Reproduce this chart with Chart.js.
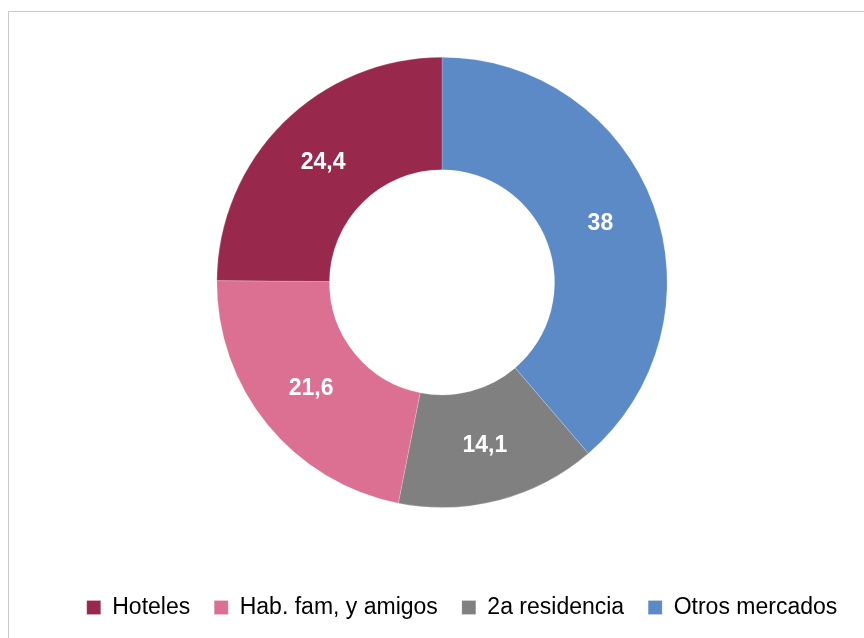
<!DOCTYPE html>
<html>
<head>
<meta charset="utf-8">
<script src="https://cdn.jsdelivr.net/npm/chart.js@4.4.1/dist/chart.umd.min.js"></script>
<style>
  html, body { margin: 0; padding: 0; background: #fff; overflow: hidden; width: 864px; height: 638px; }
  #frame { position: absolute; left: 8px; top: 11px; width: 900px; height: 700px; border: 1px solid #c9c9c9; box-sizing: border-box; }
  #box { position: absolute; left: 8px; top: 11px; width: 868px; height: 618px; }
</style>
</head>
<body>
<div id="frame"></div>
<div id="box"><canvas id="myChart"></canvas></div>
<script>
// drawing order is clockwise from the top, legend is shown reversed
const categories = ["Otros mercados", "2a residencia", "Hab. fam, y amigos", "Hoteles"];
const values = [38, 14.1, 21.6, 24.4];
const colors = ["#5B8AC7", "#808080", "#DB7093", "#98284C"];

const FONT = "'Liberation Sans', Arial, sans-serif";

// white value labels in the middle of each slice
const sliceLabels = {
    id: 'sliceLabels',
    afterDatasetsDraw(chart) {
        const ctx = chart.ctx;
        const meta = chart.getDatasetMeta(0);
        ctx.save();
        ctx.fillStyle = "#ffffff";
        ctx.font = "bold 23px " + FONT;
        ctx.textAlign = "center";
        ctx.textBaseline = "middle";
        meta.data.forEach(function(arc, i) {
            const p = arc.getCenterPoint();
            ctx.fillText(String(values[i]).replace(".", ","), p.x, p.y);
        });
        ctx.restore();
    }
};

// legend sits a bit right of centre in the original
const legendShift = {
    id: 'legendShift',
    afterLayout(chart) {
        chart.legend.left += 40;
    }
};

const chart = new Chart("myChart", {
    type: "doughnut",
    data: {
        labels: categories,
        datasets: [{
            data: values,
            backgroundColor: colors,
            borderColor: "rgba(255,255,255,0.4)",
            borderWidth: 0.5,
            hoverOffset: 0
        }]
    },
    options: {
        responsive: true,
        maintainAspectRatio: false,
        animation: false,
        cutout: "50%",
        layout: {
            padding: { top: 46, bottom: 0, left: 0, right: 0 }
        },
        plugins: {
            tooltip: { enabled: false },
            legend: {
                position: "bottom",
                reverse: true,
                title: {
                    display: true,
                    text: "",
                    font: { size: 1 },
                    padding: { top: 63, bottom: 0 }
                },
                labels: {
                    boxWidth: 14,
                    boxHeight: 14,
                    padding: 24,
                    color: "#000000",
                    font: { family: FONT, size: 23 }
                }
            }
        }
    },
    plugins: [sliceLabels, legendShift]
});
</script>
</body>
</html>
